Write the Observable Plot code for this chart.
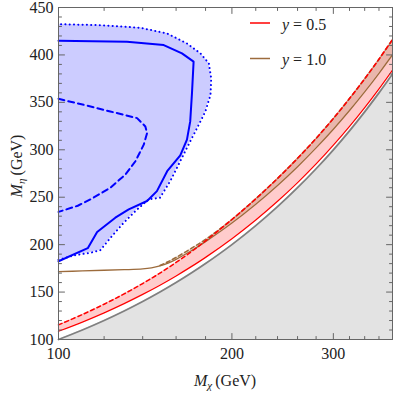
<!DOCTYPE html>
<html><head><meta charset="utf-8">
<script src="https://cdn.jsdelivr.net/npm/d3@7"></script>
<script src="https://cdn.jsdelivr.net/npm/@observablehq/plot@0.6"></script>
<style>body{margin:0;background:#fff}</style>
</head><body><div id="chart"></div>
<script>
// ---- data ----
const chi = [100,110,120,130,140,150,160,170,180,200,220,240,260,280,300,320,340,360,380];
const diag = [100,110,120,130,140,150,160,170,180,200,220,240,260,280,300,320,340,360,380];
const redSolid = [108.7,118.4,128.1,137.8,147.5,157.2,167,176.8,186.6,206.3,226,245.7,265.4,285.1,304.9,324.7,344.5,364.3,384.1];
const redDashed = [115.4,126.3,137.2,148.1,159,170,181.2,192.5,204,226.5,248.3,269.8,291,312,333,354,374.8,395.5,416.2];
const brownChi = [100,110,120,130,140,145,150,155,160,170,180,200,220,240,260,280,300,320,340,360,380];
const brownSolid = [171.5,172.3,173,173.6,174.4,175.5,177.5,180.5,184.5,193.5,203.2,222.8,242.6,262.4,282.2,302,321.7,341.4,361,380.6,400.2];
const brownDashChi = [150,155,160,170,180,200,220,240,260,280,300,320,340,360,380];
const brownDashed = [178,182,186.5,196,205.5,226.5,248.3,269.8,291,312,333,354,374.8,395.5,416.2];

const blueSolidChi = [100,112.4,116.7,125.5,132.4,142.5,148.2,154.4,162.7,167.1,169.3,170.5,171.6,163.8,152.3,131.5,100];
const blueSolidEta = [182.5,196.3,213.4,228.4,237.2,246,256.4,277.4,294.2,310.7,329.9,360,392.9,401.6,410.4,413.9,414.9];
const blueDashChi = [100,110.6,123,136.9,141.5,142.5,140.6,136,130.7,123,113.6,108,100];
const blueDashEta = [353.7,347.4,340.4,333.4,324.6,317.6,305.4,287.9,274,259.9,247.7,241,234.5];
const blueDotChi = [100,107,114,118.2,123.9,129.8,136,143.3,150,156.3,162.7,169.3,174,179.9,183.6,184.1,182.4,176.4,167.1,154.4,138.7,118.2,100];
const blueDotEta = [184,189,191.6,194.2,209.2,223.1,235.4,247.7,249.4,267,288,308.9,322.9,340.4,357.9,375.3,391.1,401.6,412.1,422.6,428.6,431.4,432.4];

const xMajor = [100,200,300];
const xMinor = [120,140,160,180,220,240,260,280,320,340,360];
const yMajor = [100,150,200,250,300,350,400,450];
const yMinor = [110,120,130,140,160,170,180,190,210,220,230,240,260,270,280,290,310,320,330,340,360,370,380,390,410,420,430,440];
const legendLabels = ["0.5","1.0"];
const legendColors = ["#ff0000","#9c6b3c"];

// ---- tables ----
const diagRows = chi.map((x,i)=>({x, y:diag[i]}));
const redRows = chi.map((x,i)=>({x, s:redSolid[i], d:redDashed[i]}));
const brownRows = brownChi.map((x,i)=>({x, s:brownSolid[i]}));
const brownDashRows = brownDashChi.map((x,i)=>({x, d:brownDashed[i], s:brownSolid[brownChi.indexOf(x)]}));
const blueSolid = blueSolidChi.map((x,i)=>({x, y:blueSolidEta[i]}));
const blueDash = blueDashChi.map((x,i)=>({x, y:blueDashEta[i]}));
const blueDot = blueDotChi.map((x,i)=>({x, y:blueDotEta[i]}));

const RED = legendColors[0], BROWN = legendColors[1], BLUE = "#0000ff";
const tickCol = "#666";
const tickShape = {draw(ctx, l) { ctx.moveTo(0, 0); ctx.lineTo(0, -l); }};
const tk = (data, dim, anchor, rotate, len) => Plot.vector(data, {
  [dim]: d => d, frameAnchor: anchor, anchor: "start", rotate, length: len,
  shape: tickShape, stroke: tickCol, strokeWidth: 1
});

const plot = Plot.plot({
  width: 393, height: 394,
  marginLeft: 58, marginRight: 1, marginTop: 7, marginBottom: 55,
  style: {fontFamily: "'Liberation Serif', serif", fontSize: "16px", background: "#fff", color: "#222"},
  x: {type: "log", domain: [100, 380], axis: null},
  y: {domain: [100, 450]},
  marks: [
    Plot.areaY(diagRows, {x: "x", y1: 100, y2: "y", fill: "#e3e3e3", curve: "catmull-rom"}),
    Plot.areaX(blueDot, {y: "y", x1: 100, x2: "x", fill: BLUE, fillOpacity: 0.2}),
    Plot.areaY(redRows, {x: "x", y1: "s", y2: "d", fill: RED, fillOpacity: 0.2, curve: "catmull-rom"}),
    Plot.areaY(brownDashRows, {x: "x", y1: "s", y2: "d", fill: BROWN, fillOpacity: 0.22, curve: "catmull-rom"}),
    Plot.line(diagRows, {x: "x", y: "y", stroke: "#808080", strokeWidth: 1.8, curve: "catmull-rom"}),
    Plot.line(redRows, {x: "x", y: "s", stroke: RED, strokeWidth: 1.3, curve: "catmull-rom"}),
    Plot.line(brownRows, {x: "x", y: "s", stroke: BROWN, strokeWidth: 1.3, curve: "catmull-rom"}),
    Plot.line(brownDashRows, {x: "x", y: "d", stroke: BROWN, strokeWidth: 1.5, strokeDasharray: "4,3", curve: "catmull-rom"}),
    Plot.line(redRows, {x: "x", y: "d", stroke: RED, strokeWidth: 1.5, strokeDasharray: "4,3", curve: "catmull-rom"}),
    Plot.line(blueDot, {x: "x", y: "y", stroke: BLUE, strokeWidth: 2, strokeDasharray: "0.1,4.2", strokeLinecap: "round"}),
    Plot.line(blueDash, {x: "x", y: "y", stroke: BLUE, strokeWidth: 2, strokeDasharray: "6,4"}),
    Plot.line(blueSolid, {x: "x", y: "y", stroke: BLUE, strokeWidth: 2}),
    Plot.frame({stroke: tickCol}),
    // inward ticks on all four sides
    tk(xMajor, "x", "bottom", 0, 6), tk(xMinor, "x", "bottom", 0, 3),
    tk(xMajor, "x", "top", 180, 6), tk(xMinor, "x", "top", 180, 3),
    tk(yMajor, "y", "left", 90, 6), tk(yMinor, "y", "left", 90, 3),
    tk(yMajor, "y", "right", -90, 6), tk(yMinor, "y", "right", -90, 3),
    // tick labels
    Plot.text(xMajor, {x: d => d, frameAnchor: "bottom", dy: 14, text: d => String(d), fontSize: 16, fill: "#222", lineAnchor: "middle"}),
    Plot.axisY(yMajor, {anchor: "left", tickSize: 0, tickPadding: 5, fontSize: 16, label: null, fill: "#222", tickFormat: d => String(d)})
  ]
});

const svg = d3.select(plot);
// axis titles with subscripts
function title(g, sub) {
  g.append("tspan").attr("font-style", "italic").text("M");
  g.append("tspan").attr("font-style", "italic").attr("font-size", "11px").attr("dy", 3).text(sub);
  g.append("tspan").attr("dy", -3).text("\u2009(GeV)");
}
title(svg.append("text").attr("x", 225).attr("y", 386).attr("text-anchor", "middle")
  .attr("font-size", 16).attr("fill", "#222"), "\u03c7");
title(svg.append("text").attr("transform", "translate(22,166) rotate(-90)").attr("text-anchor", "middle")
  .attr("font-size", 16).attr("fill", "#222"), "\u03b7");
// legend
legendLabels.forEach((lab, i) => {
  const yy = 23 + i * 35.5;
  svg.append("line").attr("x1", 250).attr("x2", 270).attr("y1", yy).attr("y2", yy)
    .attr("stroke", legendColors[i]).attr("stroke-width", 1.5);
  const t = svg.append("text").attr("x", 282).attr("y", yy + 6.5).attr("text-anchor", "start")
    .attr("font-size", 16).attr("fill", "#222");
  t.append("tspan").attr("font-style", "italic").text("y");
  t.append("tspan").text(" = " + lab);
});
document.getElementById("chart").appendChild(plot);
</script>
</body></html>
